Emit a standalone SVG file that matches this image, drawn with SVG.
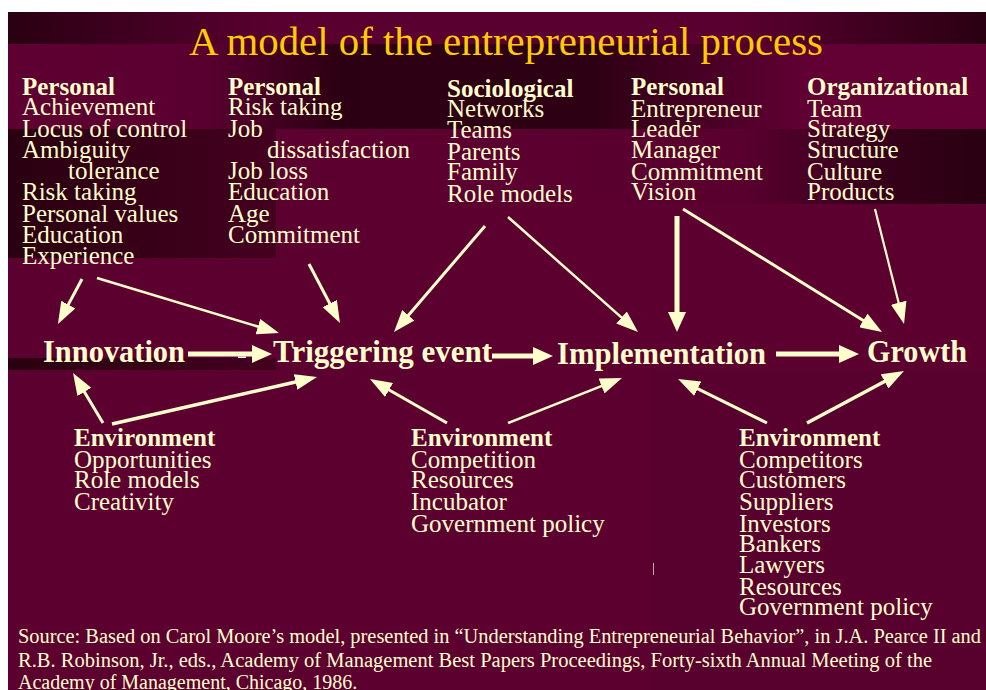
<svg xmlns="http://www.w3.org/2000/svg" width="986" height="690" viewBox="0 0 986 690">
<defs>
<linearGradient id="gTop" x1="8" y1="0" x2="986" y2="0" gradientUnits="userSpaceOnUse">
<stop offset="0" stop-color="#2A0012"/><stop offset="0.28" stop-color="#5A0030"/><stop offset="0.74" stop-color="#5A0030"/><stop offset="1" stop-color="#2A0012"/>
</linearGradient>
<linearGradient id="gB2" x1="8" y1="0" x2="986" y2="0" gradientUnits="userSpaceOnUse">
<stop offset="0" stop-color="#5E0031"/><stop offset="0.2" stop-color="#5A0030"/><stop offset="0.34" stop-color="#2C0012"/><stop offset="0.6" stop-color="#2E0014"/><stop offset="0.82" stop-color="#620034"/><stop offset="1" stop-color="#640034"/>
</linearGradient>
<linearGradient id="gL" x1="8" y1="0" x2="276" y2="0" gradientUnits="userSpaceOnUse">
<stop offset="0" stop-color="#2A0010"/><stop offset="1" stop-color="#44001F"/>
</linearGradient>
<linearGradient id="gB3" x1="276" y1="0" x2="986" y2="0" gradientUnits="userSpaceOnUse">
<stop offset="0" stop-color="#5C0030"/><stop offset="0.65" stop-color="#5A002F"/><stop offset="0.85" stop-color="#36001A"/><stop offset="1" stop-color="#2A0012"/>
</linearGradient>
<marker id="ah" markerUnits="userSpaceOnUse" markerWidth="22" markerHeight="16" refX="10" refY="8" orient="auto">
<path d="M0,0 L22,8 L0,16 z" fill="#FFFFCC"/>
</marker>
<marker id="ahb" markerUnits="userSpaceOnUse" markerWidth="20" markerHeight="18" refX="8" refY="9" orient="auto">
<path d="M0,0 L20,9 L0,18 z" fill="#FFFFCC"/>
</marker>
</defs>
<style>
text{font-family:"Liberation Serif","Times New Roman",serif;fill:#FFFFCC}
.t{font-size:41px;fill:#FFCC00}
.h{font-size:25px;font-weight:bold}
.l{font-size:25px}
.n{font-size:30.5px;font-weight:bold}
.s{font-size:20px}
.c line{stroke:#FFFFCC;stroke-width:3;marker-end:url(#ah)}
.c line.b{stroke-width:5;marker-end:url(#ahb)}
</style>
<rect x="0" y="0" width="986" height="690" fill="#FFFFFF"/>
<g id="background">
<rect x="8" y="12" width="978" height="678" fill="#5C0030"/>
<rect x="653" y="370" width="333" height="320" fill="#58002E"/>
<rect x="8" y="12" width="978" height="32" fill="url(#gTop)"/>
<rect x="8" y="44" width="978" height="85" fill="url(#gB2)"/>
<rect x="8" y="129" width="268" height="129" fill="url(#gL)"/>
<rect x="276" y="129" width="710" height="75" fill="url(#gB3)"/>
<rect x="8" y="358" width="268" height="12" fill="url(#gL)"/>
<rect x="238" y="356.5" width="8" height="1.5" fill="#FFFFFF"/>
<rect x="653" y="563" width="1" height="12" fill="#C8A0B0"/>
</g>
<text id="title" class="t" x="189" y="55" textLength="634" lengthAdjust="spacingAndGlyphs">A model of the entrepreneurial process</text>
<g id="personal1">
<text class="h" x="22" y="95">Personal</text>
<text class="l" x="22" y="115">Achievement</text>
<text class="l" x="22" y="137">Locus of control</text>
<text class="l" x="22" y="158">Ambiguity</text>
<text class="l" x="68" y="179">tolerance</text>
<text class="l" x="22" y="200">Risk taking</text>
<text class="l" x="22" y="222">Personal values</text>
<text class="l" x="22" y="243">Education</text>
<text class="l" x="22" y="264">Experience</text>
</g>
<g id="personal2">
<text class="h" x="228" y="95">Personal</text>
<text class="l" x="228" y="115">Risk taking</text>
<text class="l" x="228" y="137">Job</text>
<text class="l" x="267" y="158">dissatisfaction</text>
<text class="l" x="228" y="179">Job loss</text>
<text class="l" x="228" y="200">Education</text>
<text class="l" x="228" y="222">Age</text>
<text class="l" x="228" y="243">Commitment</text>
</g>
<g id="sociological">
<text class="h" x="447" y="97">Sociological</text>
<text class="l" x="447" y="117">Networks</text>
<text class="l" x="447" y="138">Teams</text>
<text class="l" x="447" y="160">Parents</text>
<text class="l" x="447" y="180">Family</text>
<text class="l" x="447" y="202">Role models</text>
</g>
<g id="personal3">
<text class="h" x="631" y="95">Personal</text>
<text class="l" x="631" y="117">Entrepreneur</text>
<text class="l" x="631" y="137">Leader</text>
<text class="l" x="631" y="158">Manager</text>
<text class="l" x="631" y="180">Commitment</text>
<text class="l" x="631" y="200">Vision</text>
</g>
<g id="organizational">
<text class="h" x="807" y="95">Organizational</text>
<text class="l" x="807" y="117">Team</text>
<text class="l" x="807" y="137">Strategy</text>
<text class="l" x="807" y="158">Structure</text>
<text class="l" x="807" y="180">Culture</text>
<text class="l" x="807" y="200">Products</text>
</g>
<g id="innovation"><text class="n" x="43" y="362" textLength="142" lengthAdjust="spacingAndGlyphs">Innovation</text></g>
<g id="triggering"><text class="n" x="273" y="362" textLength="219" lengthAdjust="spacingAndGlyphs">Triggering event</text></g>
<g id="implementation"><text class="n" x="557" y="364" textLength="209" lengthAdjust="spacingAndGlyphs">Implementation</text></g>
<g id="growth"><text class="n" x="867" y="362" textLength="100" lengthAdjust="spacingAndGlyphs">Growth</text></g>
<g id="environment1">
<text class="h" x="74" y="446">Environment</text>
<text class="l" x="74" y="468">Opportunities</text>
<text class="l" x="74" y="488">Role models</text>
<text class="l" x="74" y="510">Creativity</text>
</g>
<g id="environment2">
<text class="h" x="411" y="446">Environment</text>
<text class="l" x="411" y="468">Competition</text>
<text class="l" x="411" y="488">Resources</text>
<text class="l" x="411" y="510">Incubator</text>
<text class="l" x="411" y="532">Government policy</text>
</g>
<g id="environment3">
<text class="h" x="739" y="446">Environment</text>
<text class="l" x="739" y="468">Competitors</text>
<text class="l" x="739" y="488">Customers</text>
<text class="l" x="739" y="510">Suppliers</text>
<text class="l" x="739" y="532">Investors</text>
<text class="l" x="739" y="552">Bankers</text>
<text class="l" x="739" y="573">Lawyers</text>
<text class="l" x="739" y="595">Resources</text>
<text class="l" x="739" y="615">Government policy</text>
</g>
<g id="connectors" class="c">
<line x1="82" y1="279" x2="63.6" y2="313.4"/>
<line x1="97" y1="278" x2="267.5" y2="329.5" style="stroke-width:2.5"/>
<line x1="309" y1="264" x2="334.4" y2="312.4"/>
<line x1="485" y1="226" x2="401.8" y2="322.9"/>
<line x1="508" y1="217" x2="629" y2="324.1" style="stroke-width:2.5"/>
<line x1="683" y1="209" x2="871.8" y2="325.7"/>
<line x1="875" y1="209" x2="901.1" y2="312.4" style="stroke-width:2.2"/>
<line x1="103" y1="423" x2="79.2" y2="383.3"/>
<line x1="112" y1="424" x2="305.3" y2="379.7" style="stroke-width:3.5"/>
<line x1="447" y1="423" x2="380.4" y2="385"/>
<line x1="508" y1="423" x2="610.8" y2="382.4" style="stroke-width:2.5"/>
<line x1="767" y1="423" x2="688.8" y2="384.3"/>
<line x1="807" y1="423" x2="893.4" y2="376.7" style="stroke-width:3.5"/>
<line class="b" x1="188" y1="354" x2="260" y2="354"/>
<line class="b" x1="492" y1="356" x2="541" y2="356"/>
<line class="b" x1="776" y1="354" x2="847" y2="354"/>
<line class="b" x1="677" y1="216" x2="677" y2="320"/>
</g>
<g id="source">
<text class="s" x="18" y="643" textLength="963" lengthAdjust="spacingAndGlyphs">Source: Based on Carol Moore’s model, presented in “Understanding Entrepreneurial Behavior”, in J.A. Pearce II and</text>
<text class="s" x="18" y="667" textLength="914" lengthAdjust="spacingAndGlyphs">R.B. Robinson, Jr., eds., Academy of Management Best  Papers Proceedings, Forty-sixth Annual Meeting of the</text>
<text class="s" x="18" y="689">Academy of Management, Chicago, 1986.</text>
</g>
</svg>
